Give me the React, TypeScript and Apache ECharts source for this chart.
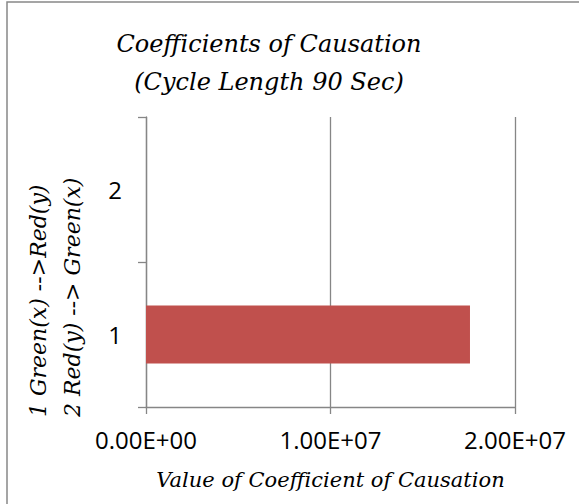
import React, { useEffect, useRef } from "react";
import * as echarts from "echarts";

const categories = ["1", "2"];
const coefficientValues = [17560000, 0];
const xTicks = { min: 0, max: 20000000, interval: 10000000 };
const titleLines = ["Coefficients of Causation", "(Cycle Length 90 Sec)"];
const yAxisNameLines = ["1 Green(x) -->Red(y)", "2 Red(y) --> Green(x)"];
const xAxisName = "Value of Coefficient of Causation";

const SERIF = "DejaVu Serif";
const SANS = "'Open Sans', sans-serif";

function fmtExp(v: number): string {
  if (v === 0) return "0.00E+00";
  const s = v.toExponential(2).toUpperCase();
  const [m, e] = s.split("E");
  const sign = e[0] === "-" ? "-" : "+";
  const digits = e.replace(/[+-]/, "").padStart(2, "0");
  return `${m}E${sign}${digits}`;
}

export default function App() {
  const ref = useRef<HTMLDivElement>(null);
  useEffect(() => {
    if (!ref.current) return;
    const chart = echarts.init(ref.current, null, { renderer: "svg" });
    const axisColor = "#868686";
    chart.setOption({
      animation: false,
      backgroundColor: "#ffffff",
      title: {
        text: titleLines.join("\n"),
        left: 264,
        top: 20,
        textAlign: "center",
        textStyle: {
          fontFamily: SERIF,
          fontStyle: "italic",
          fontWeight: "normal",
          fontSize: 24,
          lineHeight: 38,
          color: "#000",
        },
      },
      grid: { left: 146, right: 64, top: 117, bottom: 97 },
      xAxis: {
        type: "value",
        min: xTicks.min,
        max: xTicks.max,
        interval: xTicks.interval,
        name: xAxisName,
        nameLocation: "middle",
        nameGap: 62,
        nameTextStyle: {
          fontFamily: SERIF,
          fontStyle: "italic",
          fontSize: 21,
          color: "#000",
        },
        axisLine: { show: true, lineStyle: { color: axisColor, width: 1.3 } },
        axisTick: { show: true, length: 7, lineStyle: { color: axisColor, width: 1.3 } },
        splitLine: { show: true, lineStyle: { color: axisColor, width: 1.3 } },
        axisLabel: {
          formatter: (v: number) => fmtExp(v),
          fontFamily: SANS,
          fontSize: 24,
          color: "#000",
          margin: 20,
        },
      },
      yAxis: {
        type: "category",
        data: categories,
        axisLine: { show: true, lineStyle: { color: axisColor, width: 1.3 } },
        axisTick: { show: true, length: 8, alignWithLabel: false, lineStyle: { color: axisColor, width: 1.3 } },
        axisLabel: {
          fontFamily: SANS,
          fontSize: 24,
          color: "#000",
          margin: 24,
        },
      },
      series: [
        {
          type: "bar",
          data: coefficientValues,
          barCategoryGap: "60%",
          itemStyle: { color: "#C0504D" },
        },
      ],
      graphic: [
        {
          type: "rect",
          shape: { x: 7, y: 2, width: 620, height: 620 },
          style: { fill: "none", stroke: "#888888", lineWidth: 1.5 },
          silent: true,
        },
        {
          type: "text",
          x: 55,
          y: 417,
          rotation: Math.PI / 2,
          style: {
            text: yAxisNameLines.join("\n"),
            fontFamily: SERIF,
            fontStyle: "italic",
            fontSize: 22,
            lineHeight: 34,
            fill: "#000",
            textAlign: "left",
            textVerticalAlign: "middle",
          },
        },
      ],
    });
    return () => chart.dispose();
  }, []);
  return (
    <div
      ref={ref}
      style={{ position: "absolute", left: 0, top: 0, width: 579, height: 504 }}
    />
  );
}
